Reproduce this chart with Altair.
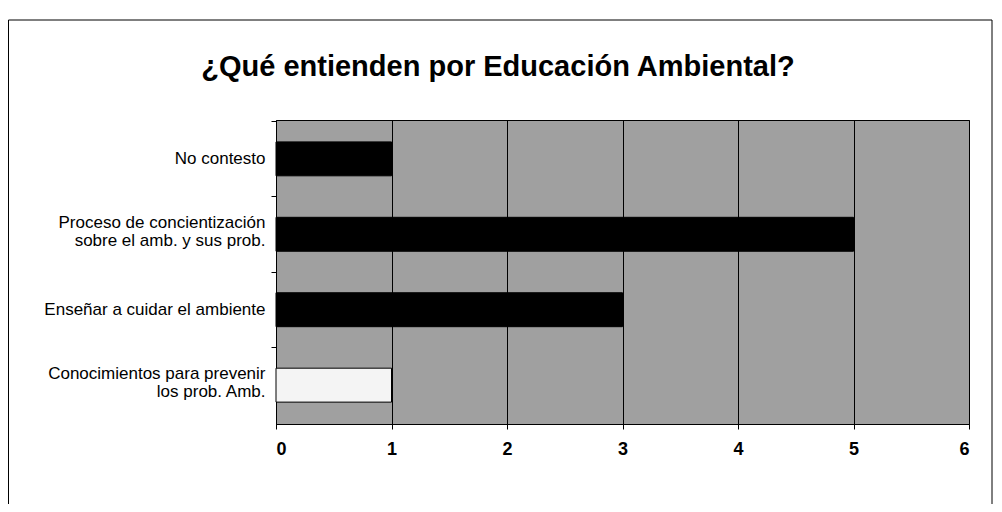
import altair as alt
import pandas as pd

categories = [
    "No contesto",
    "Proceso de concientización|sobre el amb. y sus prob.",
    "Enseñar a cuidar el ambiente",
    "Conocimientos para prevenir|los prob. Amb.",
]
values = [1, 5, 3, 1]
fills = ["#000000", "#000000", "#000000", "#f4f4f4"]
x_ticks = [0, 1, 2, 3, 4, 5, 6]
title_text = "¿Qué entienden por Educación Ambiental?"

df = pd.DataFrame({"cat": categories, "val": values, "fill": fills})

W, H = 693, 304
PL, PT = 268, 112

border = alt.Chart(pd.DataFrame({"a": [0]})).mark_rect(
    fill=None, stroke="black", strokeWidth=1
).encode(
    x=alt.value(-PL + 0.5), x2=alt.value(W + 23),
    y=alt.value(-100), y2=alt.value(H + 200),
)

title = alt.Chart(pd.DataFrame({"t": [title_text]})).mark_text(
    font="Arial", fontSize=29, fontWeight="bold", color="black",
    align="center", baseline="alphabetic"
).encode(text="t:N", x=alt.value(222), y=alt.value(-44))

bars = alt.Chart(df).mark_bar(stroke="black", strokeWidth=1).encode(
    y=alt.Y("cat:N", sort=categories,
            scale=alt.Scale(paddingInner=0.55, paddingOuter=0.29),
            axis=alt.Axis(title=None, labelExpr="split(datum.label, '|')",
                          labelFont="Arial", labelFontSize=17, labelColor="black",
                          labelPadding=6, labelLineHeight=18, labelLimit=300,
                          labelOffset={"condition": {"test": "indexof(datum.value, '|') >= 0",
                                                     "value": -11},
                                       "value": 0},
                          tickSize=5, bandPosition=-0.6, domainColor="black",
                          tickColor="black", grid=False)),
    x=alt.X("val:Q", scale=alt.Scale(domain=[0, 6], nice=False),
            axis=alt.Axis(title=None, values=x_ticks, format="d",
                          labelFont="Arial", labelFontSize=18, labelFontWeight="bold",
                          labelColor="black",
                          labelPadding=11, tickSize=5, tickColor="black",
                          domainColor="black", gridColor="black", gridOpacity=1,
                          gridWidth=1)),
    color=alt.Color("fill:N", scale=None, legend=None),
)

chart = alt.layer(border, bars, title).properties(
    width=W, height=H,
    background="white",
    autosize=alt.AutoSizeParams(type="none"),
    padding={"left": PL, "top": PT, "right": 25, "bottom": 80},
).configure_view(
    fill="#a0a0a0", stroke="black", strokeWidth=1
)

chart.save("out.html", embed_options={"renderer": "svg", "actions": False})
